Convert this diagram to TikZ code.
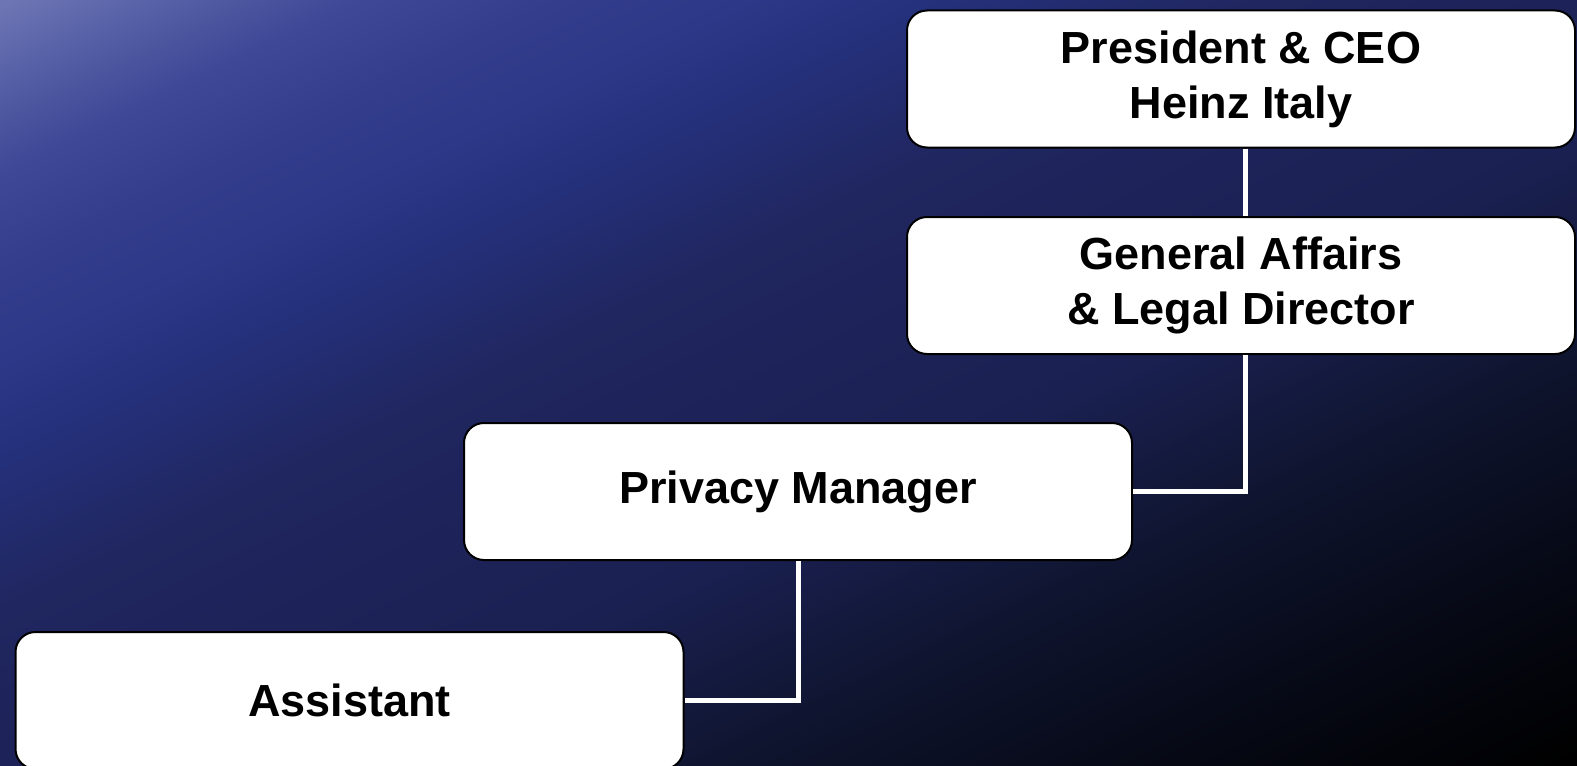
\documentclass[tikz,border=0pt]{standalone}
\usepackage{fontspec}
\setmainfont{Liberation Sans}
\usetikzlibrary{calc}
\definecolor{bgA}{HTML}{6E75B4}
\definecolor{bgB}{HTML}{5560A6}
\definecolor{bgC}{HTML}{3E4896}
\definecolor{bgD}{HTML}{333D8C}
\definecolor{bgE}{HTML}{2D3888}
\definecolor{bgF}{HTML}{24307A}
\definecolor{bgG}{HTML}{20265F}
\definecolor{bgH}{HTML}{1D2358}
\definecolor{bgI}{HTML}{1A2050}
\definecolor{bgJ}{HTML}{0F1530}
\definecolor{bgK}{HTML}{070A18}
\pgfdeclareverticalshading{bgshade}{100bp}{color(0bp)=(bgA); color(28.18bp)=(bgA); color(30.36bp)=(bgB); color(32.98bp)=(bgC); color(35.82bp)=(bgD); color(38.44bp)=(bgE); color(41.27bp)=(bgF); color(45.64bp)=(bgG); color(50bp)=(bgH); color(54.36bp)=(bgI); color(59.82bp)=(bgJ); color(65.27bp)=(bgK); color(71.82bp)=(black); color(100bp)=(black)}
\tikzset{
  orgbox/.style={draw=black, line width=1pt, fill=white, rounded corners=10pt,
    minimum width=334pt, minimum height=68.5pt, inner sep=0pt, align=center,
    font=\fontsize{22.5pt}{27.5pt}\selectfont\bfseries, text=black},
  link/.style={draw=white, line width=2.5pt}
}
\begin{document}
\begin{tikzpicture}[x=0.5pt,y=-0.5pt]
\useasboundingbox (0,0) rectangle (1577,765);
\clip (0,0) rectangle (1577,765);
\shade[shading=bgshade, shading angle=205.9] (0,-406) (1577,1171) (0,0) rectangle (1577,765);
\node[orgbox] (pres) at (1241,79) {President \& CEO\\Heinz Italy};
\node[orgbox] (gen) at (1241,285.5) {General Affairs\\\& Legal Director};
\node[orgbox] (priv) at (798,491.5) {Privacy Manager};
\node[orgbox] (asst) at (349.5,700.5) {Assistant};
\draw[link] ([xshift=2pt]pres.south) -- ([xshift=2pt]gen.north);
\draw[link] ([xshift=2pt]gen.south) |- (priv.east);
\draw[link] (priv.south) |- (asst.east);
\end{tikzpicture}
\end{document}
